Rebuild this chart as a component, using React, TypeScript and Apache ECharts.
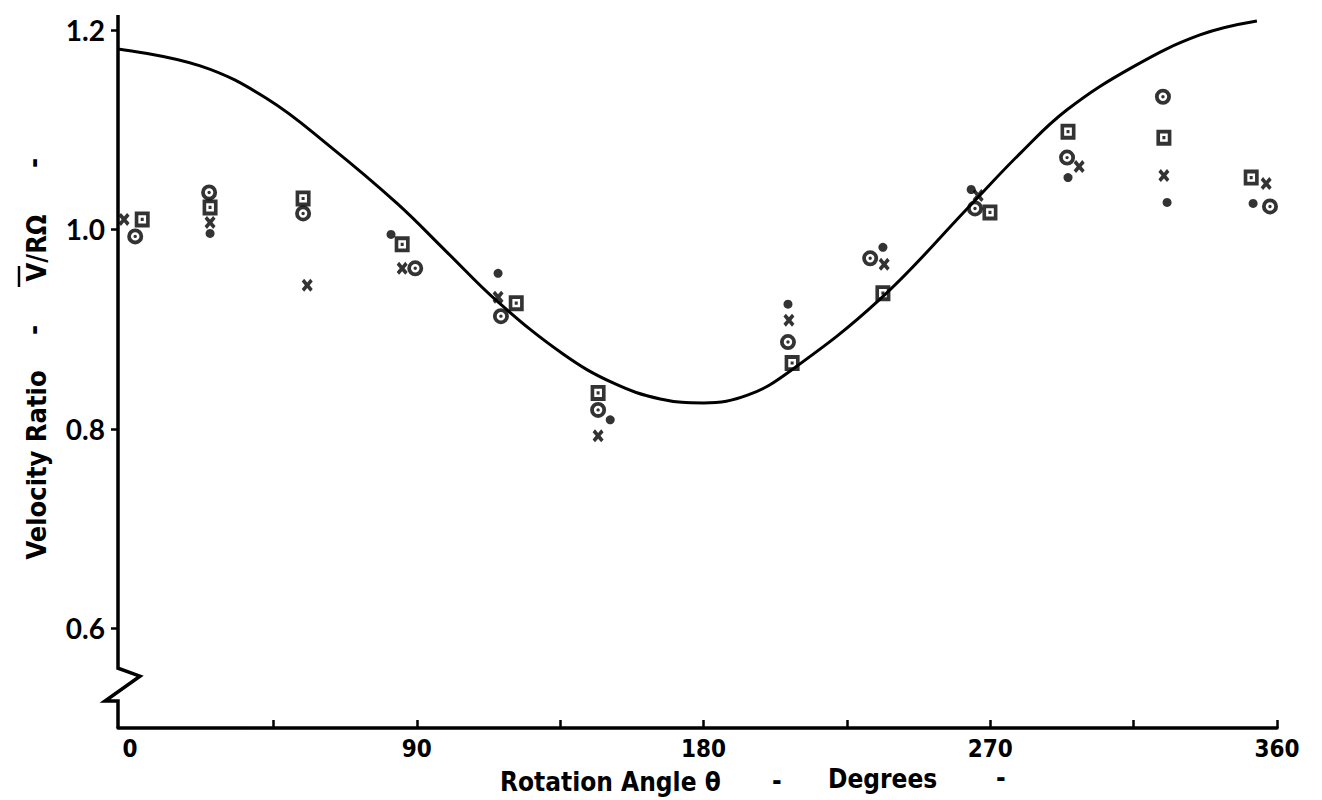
import React, { useEffect, useRef } from "react";
import * as echarts from "echarts";

// Theory curve
const curveAngle = [-3.8, 22.0, 43.0, 62.8, 83.8, 99.5, 115.2, 135.9, 151.6, 166.4, 180.0, 194.0, 207.2, 235.4, 263.7, 279.3, 294.1, 314.8, 335.8, 353.7];
const curveRatio = [1.181, 1.164, 1.131, 1.083, 1.026, 0.977, 0.928, 0.875, 0.846, 0.83, 0.826, 0.834, 0.858, 0.93, 1.024, 1.076, 1.12, 1.163, 1.195, 1.209];

// Data: crosses
const crossAngle = [-1.9, 25.1, 55.6, 85.4, 115.5, 146.9, 206.8, 236.7, 266.2, 297.9, 324.5, 356.6];
const crossRatio = [1.01, 1.007, 0.944, 0.961, 0.932, 0.793, 0.909, 0.965, 1.034, 1.063, 1.054, 1.046];
// Data: squares
const squareAngle = [3.8, 25.1, 54.3, 85.4, 121.2, 146.9, 207.8, 236.3, 269.9, 294.4, 324.5, 351.9];
const squareRatio = [1.01, 1.022, 1.031, 0.985, 0.926, 0.836, 0.866, 0.936, 1.017, 1.098, 1.092, 1.052];
// Data: circles
const circleAngle = [1.6, 24.8, 54.3, 89.5, 116.4, 146.9, 206.5, 232.3, 265.2, 294.1, 324.2, 357.8];
const circleRatio = [0.993, 1.037, 1.016, 0.961, 0.913, 0.819, 0.887, 0.971, 1.021, 1.072, 1.133, 1.023];
// Data: solid dots
const dotAngle = [25.1, 81.9, 115.5, 150.7, 206.5, 236.3, 264.0, 294.4, 325.5, 352.5];
const dotRatio = [0.996, 0.995, 0.956, 0.809, 0.925, 0.982, 1.04, 1.052, 1.027, 1.026];

// Axis ticks / labels
const xLabelValues = [0, 90, 180, 270, 360];
const xTickValues = [45, 90, 135, 180, 225, 270, 315, 360];
const yLabelValues = [0.6, 0.8, 1.0, 1.2];

const X_MIN = -3.8;
const X_MAX = 360;
const Y_MIN = 0.5;
const Y_MAX = 1.215;

const CROSS = "path://M0,2.2L2.2,0L5,2.8L7.8,0L10,2.2L7.2,5L10,7.8L7.8,10L5,7.2L2.2,10L0,7.8L2.8,5Z";
const SQUARE = "path://M0,0L14,0L14,14L0,14Z M3.4,3.4L3.4,10.6L10.6,10.6L10.6,3.4Z M5.6,5.6L8.4,5.6L8.4,8.4L5.6,8.4Z";
const RING = "path://M0,7A7,7 0 1,1 14,7A7,7 0 1,1 0,7Z M3.3,7A3.7,3.7 0 1,0 10.7,7A3.7,3.7 0 1,0 3.3,7Z M5.5,7A1.5,1.5 0 1,1 8.5,7A1.5,1.5 0 1,1 5.5,7Z";

const pair = (a: number[], b: number[]) => a.map((x, i) => [x, b[i]]);

export default function App() {
  const ref = useRef<HTMLDivElement>(null);
  useEffect(() => {
    const chart = echarts.init(ref.current!, null, { renderer: "svg" });
    const ink = "#000";
    chart.setOption({
      animation: false,
      backgroundColor: "#fff",
      grid: { left: 118, right: 45, top: 15, bottom: 72 },
      xAxis: {
        type: "value",
        min: X_MIN,
        max: X_MAX,
        axisLine: { show: true, onZero: false, lineStyle: { color: ink, width: 3.5 } },
        axisTick: { show: true, inside: true, length: 8, customValues: xTickValues, lineStyle: { color: ink, width: 2.5 } },
        axisLabel: {
          customValues: xLabelValues,
          margin: 9,
          color: ink,
          fontSize: 24,
          fontWeight: "bold",
          fontFamily: "'Liberation Sans Narrow', 'DejaVu Sans Condensed', sans-serif",
        },
        splitLine: { show: false },
      },
      yAxis: {
        type: "value",
        min: Y_MIN,
        max: Y_MAX,
        axisLine: { show: false, onZero: false },
        axisTick: { show: true, inside: false, length: 7, customValues: yLabelValues, lineStyle: { color: ink, width: 2.5 } },
        axisLabel: {
          customValues: yLabelValues,
          margin: 13,
          color: ink,
          fontSize: 28,
          fontWeight: "bold",
          fontFamily: "Lato, sans-serif",
          formatter: (v: number) => v.toFixed(1),
        },
        splitLine: { show: false },
      },
      series: [
        {
          type: "line",
          data: pair(curveAngle, curveRatio),
          smooth: 0.4,
          symbol: "none",
          lineStyle: { color: ink, width: 3 },
          z: 2,
        },
        {
          type: "scatter",
          data: pair(crossAngle, crossRatio),
          symbol: CROSS,
          symbolSize: [11, 13],
          itemStyle: { color: ink },
          z: 3,
        },
        {
          type: "scatter",
          data: pair(squareAngle, squareRatio),
          symbol: SQUARE,
          symbolSize: [15, 16],
          itemStyle: { color: ink },
          z: 3,
        },
        {
          type: "scatter",
          data: pair(circleAngle, circleRatio),
          symbol: RING,
          symbolSize: 16,
          itemStyle: { color: ink },
          z: 3,
        },
        {
          type: "scatter",
          data: pair(dotAngle, dotRatio),
          symbol: "circle",
          symbolSize: 9,
          itemStyle: { color: ink },
          z: 4,
        },
      ],
    });

    const px = (x: number, y: number) => chart.convertToPixel({ gridIndex: 0 }, [x, y]) as number[];
    const [x0, yTop] = px(X_MIN, Y_MAX);
    const yB1 = px(X_MIN, 0.56)[1];
    const yB2 = px(X_MIN, 0.527)[1];
    const yBot = px(X_MIN, Y_MIN)[1];

    const titleFont = "bold 27px 'DejaVu Sans Condensed', 'DejaVu Sans', sans-serif";
    const xTitleFont = "bold 26px 'DejaVu Sans Condensed', 'DejaVu Sans', sans-serif";
    const rotText = (text: string, cx: number, cy: number) => ({
      type: "text",
      x: cx,
      y: cy,
      rotation: Math.PI / 2,
      style: { text, x: 0, y: 0, font: titleFont, fill: ink, align: "center", verticalAlign: "middle", textAlign: "center", textVerticalAlign: "middle" },
    });
    const hText = (text: string, lx: number, cy: number) => ({
      type: "text",
      x: lx,
      y: cy,
      style: { text, x: 0, y: 0, font: xTitleFont, fill: ink, align: "left", verticalAlign: "middle", textAlign: "left", textVerticalAlign: "middle" },
    });

    chart.setOption({
      graphic: [
        {
          type: "polyline",
          z: 10,
          shape: {
            points: [
              [x0, yTop],
              [x0, yB1],
              [x0 + 22, yB1 + 8],
              [x0 - 13, yB2],
              [x0, yB2],
              [x0, yBot],
            ],
          },
          style: { stroke: ink, lineWidth: 3.5, fill: "none" },
        },
        rotText("Velocity Ratio", 36, 465),
        rotText("-", 33, 330),
        rotText("V/RΩ", 36, 248),
        {
          type: "line",
          shape: { x1: 19, y1: 266, x2: 19, y2: 287 },
          style: { stroke: ink, lineWidth: 2.5 },
        },
        rotText("-", 33, 163),
        hText("Rotation Angle θ", 500, 782),
        hText("-", 772, 781),
        hText("Degrees", 828, 779),
        hText("-", 996, 778),
      ],
    });

    return () => chart.dispose();
  }, []);
  return (
    <div
      ref={ref}
      style={{ position: "absolute", left: 0, top: 0, width: 1322, height: 800, background: "#fff" }}
    />
  );
}
